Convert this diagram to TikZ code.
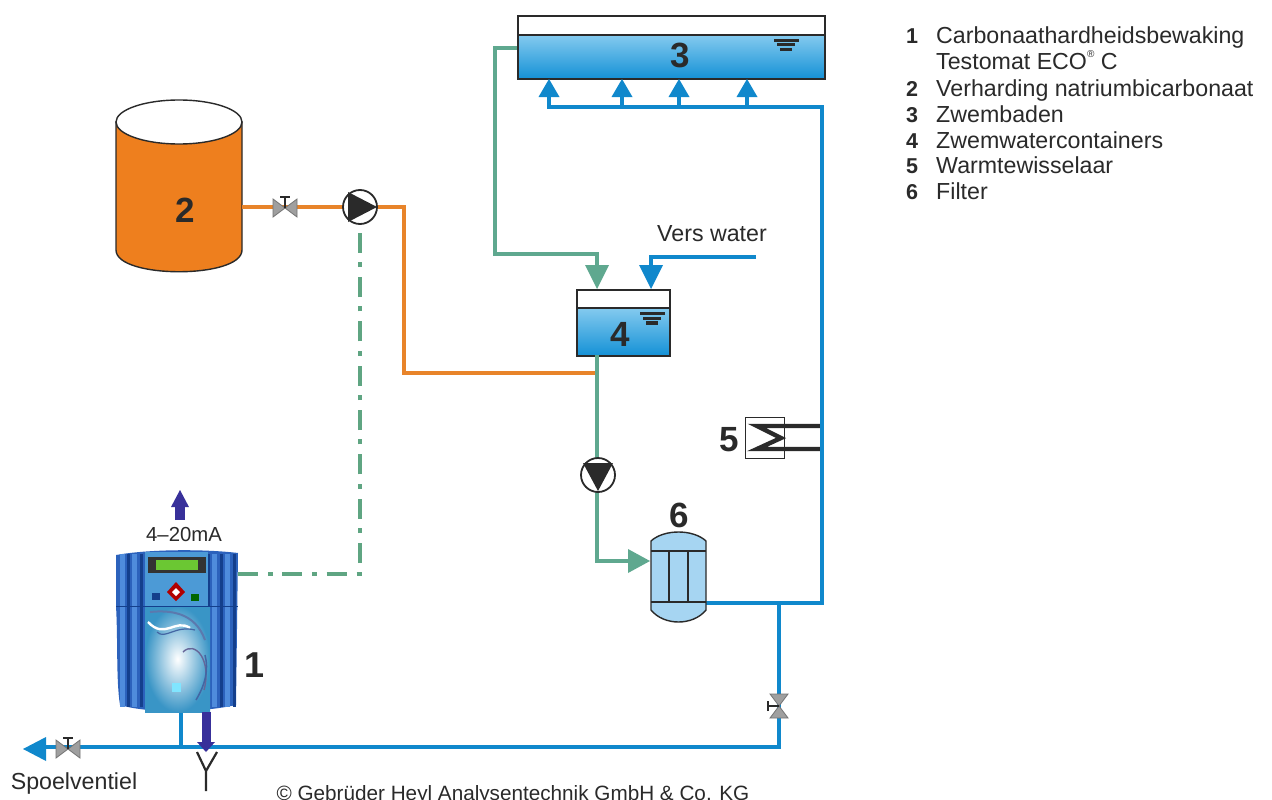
\documentclass[tikz,border=0pt]{standalone}
\usepackage{fontspec}
\setmainfont{Liberation Sans}
\usetikzlibrary{arrows.meta,calc,shapes.geometric}
\definecolor{pblue}{HTML}{1088CC}
\definecolor{pgreen}{HTML}{5FA88F}
\definecolor{porange}{HTML}{E8842A}
\definecolor{ppurple}{HTML}{38309A}
\definecolor{tankorange}{HTML}{EE7F1E}
\definecolor{ink}{HTML}{2A2A2A}
\definecolor{dgreen}{HTML}{5FA582}
\definecolor{filterblue}{HTML}{A6D5F2}
\definecolor{devblue}{HTML}{2C62BC}
\definecolor{devlight}{HTML}{4F8CDC}
\definecolor{devdark}{HTML}{143F8C}
\definecolor{watertop}{HTML}{84CAEF}
\definecolor{waterbot}{HTML}{1491D6}
\definecolor{panel}{HTML}{4C9AD6}
\tikzset{
  x=1pt,y=-1pt,
  pipeblue/.style={draw=pblue,line width=4pt,line join=miter},
  pipegreen/.style={draw=pgreen,line width=4pt,line join=miter},
  pipeorange/.style={draw=porange,line width=4pt,line join=miter},
  tankbody/.style={draw=ink,line width=2pt,inner sep=0pt,fill=white},
  water/.style={draw=ink,line width=1.8pt,top color=watertop,bottom color=waterbot,rectangle,inner sep=0pt},
  bignum/.style={font=\bfseries\fontsize{35}{35}\selectfont,text=ink,inner sep=0pt},
  legnum/.style={font=\bfseries\fontsize{21.5}{21.5}\selectfont,text=ink,anchor=base west,inner sep=0pt},
  legtxt/.style={font=\fontsize{23.2}{23.2}\selectfont,text=ink,anchor=base west,inner sep=0pt},
  lbl/.style={font=\fontsize{23.2}{23.2}\selectfont,text=ink,inner sep=0pt,anchor=base},
  pumpc/.style={circle,draw=ink,line width=1.8pt,fill=white,minimum size=34pt,inner sep=0pt},
}
\newcommand{\levelmark}[2]{%
  \fill[ink] (#1-12.5,#2) rectangle (#1+12.5,#2+3);
  \fill[ink] (#1-9,#2+4.5) rectangle (#1+9,#2+7.5);
  \fill[ink] (#1-6,#2+9) rectangle (#1+6,#2+12.5);
}
\newcommand{\valveh}[2]{%
  \fill[gray!75,draw=gray!90!black,line width=.8pt] (#1-12,#2-9) -- (#1,#2) -- (#1-12,#2+9) -- cycle;
  \fill[gray!75,draw=gray!90!black,line width=.8pt] (#1+12,#2-9) -- (#1,#2) -- (#1+12,#2+9) -- cycle;
  \draw[ink,line width=1.4pt] (#1,#2) -- (#1,#2-11) (#1-5,#2-11) -- (#1+5,#2-11);
}
\begin{document}
\begin{tikzpicture}
\useasboundingbox (0,0) rectangle (1272,800);
\clip (0,0) rectangle (1272,800);
\fill[white] (0,0) rectangle (1272,800);

% ---------- named places
\coordinate (t3L) at (517,48);
\coordinate (g1) at (495,48);
\coordinate (g2) at (495,254);
\coordinate (g3) at (597,254);
\coordinate (t4G) at (597,289);
\coordinate (t4B) at (651,289);
\coordinate (vw) at (756,257);
\coordinate (vw2) at (651,257);
\coordinate (t4S) at (597,355);
\coordinate (tee) at (597,373);
\coordinate (o1) at (404,373);
\coordinate (o2) at (404,207);
\coordinate (g4) at (597,561);
\coordinate (r0) at (822,107);
\coordinate (r1) at (822,603);
\coordinate (r2) at (779,603);
\coordinate (r3) at (779,747);
\coordinate (l0) at (30,747);
\coordinate (tap) at (181,747);
\coordinate (d1) at (360,574);
\coordinate (yb) at (206,752);

% ---------- cylinder 2
\path[fill=tankorange,draw=ink,line width=1.4pt]
  (116,122) -- (116,250) .. controls (116,279) and (242,279) .. (242,250) -- (242,122) -- cycle;
\draw[fill=white,draw=ink,line width=1.4pt] (179,122) ellipse[x radius=63,y radius=22];
\node[bignum] (n2) at (185,210) {2};
\coordinate (t2E) at (242,207);

% ---------- tank 3
\node[tankbody,minimum width=307pt,minimum height=63pt,anchor=north west] (t3) at (517,15) {};
\node[water,minimum width=307pt,minimum height=44pt,anchor=north west] (w3) at (517,34) {};
\levelmark{786}{39}
\node[bignum] (n3) at (680,55) {3};

% ---------- tank 4
\node[tankbody,minimum width=93pt,minimum height=66pt,anchor=north west] (t4) at (576,289) {};
\node[water,minimum width=93pt,minimum height=48pt,anchor=north west] (w4) at (576,307) {};
\levelmark{652}{312}
\node[bignum] (n4) at (620,334) {4};

% ---------- pipes
\draw[pipegreen,line width=3.6pt] (t3L) -- (g1) -- (g2) -- (g3) -- (597,268);
\fill[pgreen] (t4G) -- (585,265) -- (609,265) -- cycle;
\draw[pipeblue,line width=3.6pt] (vw) -- (vw2) -- (651,268);
\fill[pblue] (t4B) -- (639,265) -- (663,265) -- cycle;
\draw[pipeorange] (tee) -- (o1) -- (o2) -- (378,207);
\draw[pipeorange] (t2E) -- (345,207);
\draw[pipegreen] (t4S) -- (597,458);
\draw[pipegreen] (597,490) -- (g4) -- (632,561);
\fill[pgreen] (650,561) -- (628,549) -- (628,573) -- cycle;

% ---------- top distribution
\draw[pipeblue] (549,92) -- (549,107) -- (r0) -- (r1) -- (706,603);
\foreach \xx/\nm in {549/a,622/b,679/c,747/d}{
  \coordinate (in\nm) at (\xx,79);
  \draw[pipeblue] (\xx,107) -- (\xx,92);
  \fill[pblue] (in\nm) -- (\xx-10.5,97) -- (\xx+10.5,97) -- cycle;
}
\draw[pipeblue] (r2) -- (r3) -- (l0);
\draw[pipeblue,line width=3.6pt] (181,708) -- (tap);
\fill[pblue] (23,749) -- (46,737) -- (46,761) -- cycle;

% ---------- valves and pumps
\valveh{285}{208}
\valveh{68}{749}
\begin{scope}[shift={(779,706)},rotate=90]
\valveh{0}{0}
\end{scope}
\node[pumpc] (p1) at (360,207) {};
\fill[ink] (348,192) -- (377,207) -- (348,222) -- cycle;
\node[pumpc] (p2) at (598,475) {};
\fill[ink] (583,463) -- (613,463) -- (598,491) -- cycle;

% ---------- dash-dot signal
\draw[dgreen,line width=4pt,dash pattern=on 20pt off 10pt on 5pt off 9.33pt] (238,574) -- (d1) -- (360,226);

% ---------- heat exchanger 5
\node[draw=ink,line width=1pt,fill=white,minimum width=39pt,minimum height=41pt,inner sep=0pt,anchor=north west] (h5) at (745,417) {};
\draw[ink,line width=4.4pt,line join=miter] (r0 |- 0,426) -- (757,426) -- (781,438) -- (757,449) -- (r0 |- 0,449);
\draw[pblue,line width=4pt] (822,415) -- (822,460);
\node[bignum] (n5) at (729,440) {5};

% ---------- filter 6
\path[fill=filterblue,draw=ink,line width=1.4pt]
  (651,541) .. controls (664,529) and (693,529) .. (706,541)
  -- (706,610) .. controls (693,626) and (664,626) .. (651,610) -- cycle;
\draw[ink,line width=1.4pt] (651,551) -- (706,551) (651,602) -- (706,602) (669,551) -- (669,602) (688,551) -- (688,602);
\node[bignum] (n6) at (679,515) {6};

% ---------- device 1
\path[fill=devblue] (116,555) .. controls (150,549) and (205,549) .. (238,553)
  -- (236,705) .. controls (205,712) and (150,714) .. (120,705) .. controls (116,680) and (118,640) .. (116,606) -- cycle;
\foreach \xx in {122,134,214,227}{\fill[devlight] (\xx-2.5,554) rectangle (\xx+2.5,707);}
\foreach \xx in {128,141,208,221,234}{\draw[devdark,line width=3pt] (\xx,554) -- (\xx,707);}
\fill[panel] (145,552) rectangle (208,606);
\fill[inner color=white,outer color=blue!35!cyan!55!gray] (145,606) rectangle (210,712);
\draw[devdark!70,line width=2pt] (150,612) .. controls (170,610) and (195,612) .. (205,640);
\draw[white,line width=2.4pt] (148,622) .. controls (165,640) and (175,618) .. (190,628);
\draw[devdark!80,line width=1.2pt] (157,632) .. controls (165,640) and (175,625) .. (195,630);
\draw[gray!80!blue,line width=1.4pt] (183,652) .. controls (195,640) and (212,660) .. (204,690);
\draw[devdark!80,line width=1.5pt] (205,655) .. controls (209,670) and (205,685) .. (196,700);
\fill[blue!20!cyan!50] (172,683) rectangle (181,692);
\draw[devdark,line width=1pt] (116,606) -- (238,606);
\fill[black!80] (148,557) rectangle (206,573);
\fill[green!45!olive!80] (156,560) rectangle (198,570);
\fill[red!70!black] (176,582) -- (185,592) -- (176,601) -- (167,592) -- cycle;
\fill[white] (176,588) -- (180,592) -- (176,596) -- (172,592) -- cycle;
\fill[devdark] (152,593) rectangle (160,600);
\fill[green!40!black] (191,594) rectangle (199,601);

% ---------- purple lines and drain
\draw[ppurple,line width=9pt] (206,712) -- (206,742);
\fill[ppurple] (yb) -- (197,742) -- (215,742) -- cycle;
\draw[ink,line width=2.2pt] (197,752) -- (206,771) -- (217,752) (206,771) -- (206,791);
\draw[ppurple,line width=9.5pt] (180,520) -- (180,505);
\fill[ppurple] (180,490) -- (171,507) -- (189,507) -- cycle;

% ---------- labels
\node[lbl,font=\fontsize{20.3}{20.3}\selectfont] (ma) at (184,541) {4–20mA};
\node[bignum,font=\bfseries\fontsize{36}{36}\selectfont] (n1) at (255,665) {1};
\node[lbl] (vers) at (712,241) {Vers water};
\node[lbl] (spoel) at (74,789) {Spoelventiel};
\node[lbl,font=\fontsize{20.7}{20.7}\selectfont] (copy) at (513,800) {© Gebrüder Heyl Analysentechnik GmbH \& Co. KG};

% ---------- legend
\node[legnum] (k1) at (906,44) {1};
\node[legtxt] (l1) at (936,44) {Carbonaathardheidsbewaking};
\node[legtxt] (l1b) at (936,70) {Testomat ECO\raisebox{.55em}{\fontsize{10}{10}\selectfont ®} C};
\node[legnum] (k2) at (906,96) {2};
\node[legtxt] (l2) at (936,96) {Verharding natriumbicarbonaat};
\node[legnum] (k3) at (906,122) {3};
\node[legtxt] (l3) at (936,122) {Zwembaden};
\node[legnum] (k4) at (906,148) {4};
\node[legtxt] (l4) at (936,148) {Zwemwatercontainers};
\node[legnum] (k5) at (906,173) {5};
\node[legtxt] (l5) at (936,173) {Warmtewisselaar};
\node[legnum] (k6) at (906,199) {6};
\node[legtxt] (l6) at (936,199) {Filter};
\end{tikzpicture}
\end{document}
